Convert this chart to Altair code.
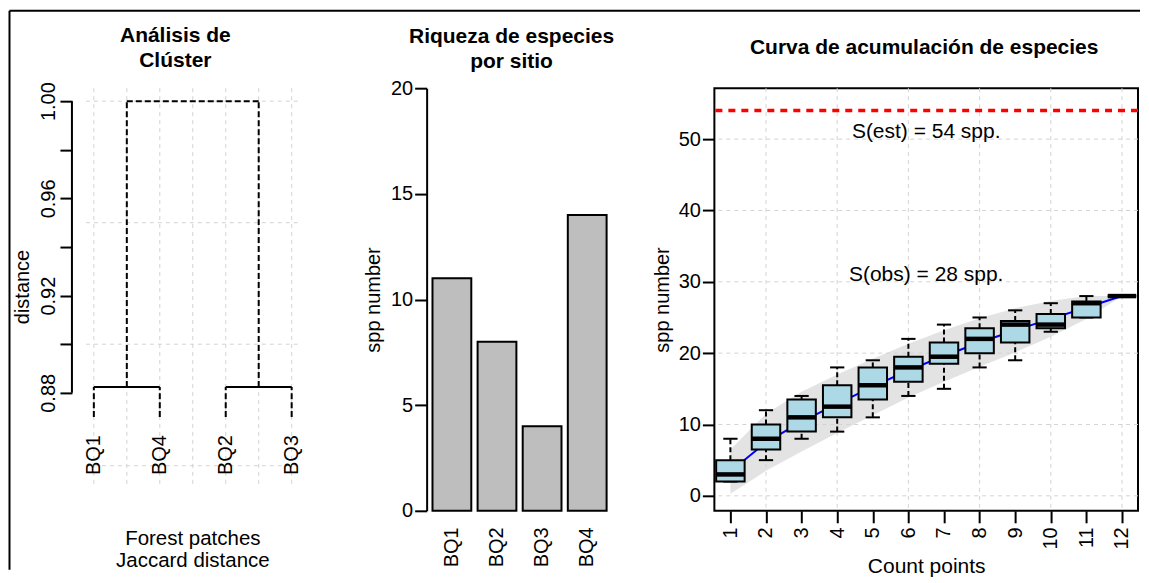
import altair as alt
import pandas as pd

FONT = "Liberation Sans"

# ---------------- Panel 1: dendrogram ----------------
leaf_labels = ["BQ1", "BQ4", "BQ2", "BQ3"]
leaf_pos = [1, 2, 3, 4]
merge_pairs = [(0, 1), (2, 3)]
merge_heights = [0.8824, 0.8824]
root_height = 1.00
leaf_end = 0.8700
dist_ticks = [0.88, 0.90, 0.92, 0.94, 0.96, 0.98, 1.00]
dist_grid = [0.85, 0.90, 0.95, 1.00]
pos_grid = [1, 1.5, 2, 2.5, 3, 3.5, 4]

# ---------------- Panel 2: bars ----------------
sites = ["BQ1", "BQ2", "BQ3", "BQ4"]
richness = [11, 8, 4, 14]
rich_ticks = [0, 5, 10, 15, 20]

# ---------------- Panel 3: accumulation ----------------
count_points = [1, 2, 3, 4, 5, 6, 7, 8, 9, 10, 11, 12]
acc_mean = [3.4, 7.5, 10.4, 12.9, 15.3, 17.6, 19.6, 21.5, 23.2, 24.8, 26.4, 28.0]
acc_upper = [6.5, 11.5, 14.6, 17.0, 19.2, 21.3, 23.2, 24.9, 26.3, 27.3, 28.0, 28.0]
acc_lower = [0.3, 3.5, 6.2, 8.8, 11.3, 13.8, 16.0, 18.1, 20.1, 22.3, 24.8, 28.0]
box_min = [2, 5, 8, 9, 11, 14, 15, 18, 19, 23, 25, 28]
box_q1 = [2, 6.5, 9, 11, 13.5, 16, 18.5, 20, 21.5, 23.5, 25, 28]
box_med = [3, 8, 11, 12.5, 15.5, 18, 19.5, 22, 24, 24, 27, 28]
box_q3 = [5, 10, 13.5, 15.5, 18, 19.5, 21.5, 23.5, 24.5, 25.5, 27.25, 28]
box_max = [8, 12, 14, 18, 19, 22, 24, 25, 26, 27, 28, 28]
s_est = 54
s_obs = 28
acc_yticks = [0, 10, 20, 30, 40, 50]
acc_grid_x = [2, 4, 6, 8, 10, 12]

GRID = "#d3d3d3"

# ===== Panel 1 =====
W1, H1 = 239, 397
x1_dom = [0.88, 0.88 + W1 / 66.0]
y1_dom = [0.84214, 1.00534]
x1s = alt.Scale(domain=x1_dom, nice=False, zero=False)
y1s = alt.Scale(domain=y1_dom, nice=False, zero=False)
ax1x = alt.Axis(labels=False, ticks=False, domain=False, grid=False,
                title=["Forest patches", "Jaccard distance"], titleFontSize=20.5,
                titleFontWeight="normal", titleX=106.5, titleY=60, titleBaseline="alphabetic",
                titleAlign="center", titleLineHeight=22)
ax1y = alt.Axis(values=dist_ticks,
                labelExpr="round(datum.value*100) % 4 == 0 ? format(datum.value, '.2f') : ''",
                domain=False, grid=False, offset=14, tickSize=12, tickWidth=2, tickColor="black",
                labelAngle=270, labelAlign="center", labelBaseline="alphabetic", labelPadding=5,
                labelFontSize=20, title="distance", titleFontSize=20, titleFontWeight="normal",
                titlePadding=6)

segs = []
centers = []
for (a, b), h in zip(merge_pairs, merge_heights):
    xa, xb = leaf_pos[a], leaf_pos[b]
    segs.append(dict(x=xa, x2=xa, y=leaf_end, y2=h, s="dash"))
    segs.append(dict(x=xb, x2=xb, y=leaf_end, y2=h, s="dash"))
    segs.append(dict(x=xa, x2=xb, y=h, y2=h, s="solid"))
    c = (xa + xb) / 2
    centers.append(c)
    segs.append(dict(x=c, x2=c, y=h, y2=root_height, s="dash"))
segs.append(dict(x=centers[0], x2=centers[1], y=root_height, y2=root_height, s="dash"))
seg_df = pd.DataFrame(segs)

dendro = alt.Chart(seg_df).mark_rule(color="black", strokeWidth=2).encode(
    x=alt.X("x:Q", scale=x1s, axis=ax1x), x2="x2:Q",
    y=alt.Y("y:Q", scale=y1s, axis=ax1y), y2="y2:Q",
    strokeDash=alt.StrokeDash("s:N", scale=alt.Scale(domain=["solid", "dash"], range=[[1, 0], [6, 3]]),
                              legend=None),
)

hgrid1 = alt.Chart(pd.DataFrame({"y": dist_grid, "lo": x1_dom[0], "hi": 4.12})).mark_rule(
    color=GRID, strokeDash=[4, 4], strokeWidth=1).encode(
    x=alt.X("lo:Q", scale=x1s, axis=ax1x), x2="hi:Q", y=alt.Y("y:Q", scale=y1s, axis=ax1y))
vgrid1 = alt.Chart(pd.DataFrame({"x": pos_grid})).mark_rule(
    color=GRID, strokeDash=[4, 4], strokeWidth=1).encode(x=alt.X("x:Q", scale=x1s, axis=ax1x))

leaf_df = pd.DataFrame({"x": leaf_pos, "lab": leaf_labels, "y": leaf_end})
leaves = alt.Chart(leaf_df).mark_text(angle=270, align="right", baseline="middle", dx=-18,
                                      fontSize=20, color="black").encode(
    x=alt.X("x:Q", scale=x1s, axis=ax1x), y=alt.Y("y:Q", scale=y1s, axis=ax1y), text="lab:N")

axis_line1 = alt.Chart(pd.DataFrame({"lo": [min(dist_ticks)], "hi": [max(dist_ticks)]})).mark_rule(
    color="black", strokeWidth=2).encode(x=alt.value(-14), y=alt.Y("lo:Q", scale=y1s, axis=ax1y), y2="hi:Q")

frame_top = alt.Chart(pd.DataFrame({"a": [0]})).mark_rule(color="black", strokeWidth=2).encode(
    x=alt.value(-76.5), x2=alt.value(1055), y=alt.value(-77.5))
frame_left = alt.Chart(pd.DataFrame({"a": [0]})).mark_rule(color="black", strokeWidth=2).encode(
    x=alt.value(-76.5), y=alt.value(-77.5), y2=alt.value(482))

p1 = alt.layer(hgrid1, vgrid1, dendro, leaves, axis_line1, frame_top, frame_left).properties(
    width=W1, height=H1,
    title=alt.TitleParams(["Análisis de", "Clúster"], offset=-61, dx=-30, lineHeight=25))

# ===== Panel 2 =====
W2, H2 = 186, 423
bar_df = pd.DataFrame({"site": sites, "n": richness})
p2 = alt.Chart(bar_df).mark_bar(color="#bebebe", stroke="black", strokeWidth=2).encode(
    x=alt.X("site:N", sort=sites, scale=alt.Scale(paddingInner=0.14, paddingOuter=0.13),
            axis=alt.Axis(labelAngle=270, labelAlign="right", labelBaseline="middle", ticks=False,
                          tickSize=0, domain=False, labelPadding=16, labelFontSize=20, title=None)),
    y=alt.Y("n:Q", scale=alt.Scale(domain=[0, 20], nice=False),
            axis=alt.Axis(values=rich_ticks, grid=False, domainColor="black", domainWidth=2,
                          tickSize=12, tickWidth=2, tickColor="black", labelPadding=2,
                          labelFontSize=20, title="spp number", titleFontSize=20,
                          titleFontWeight="normal", titlePadding=7)),
).properties(width=W2, height=H2,
             title=alt.TitleParams(["Riqueza de especies", "por sitio"], offset=6, dx=-8, lineHeight=25))

# ===== Panel 3 =====
W3, H3 = 424, 423
x3s = alt.Scale(domain=[0.55, 12.45], nice=False, zero=False)
y3s = alt.Scale(domain=[-2.1, 57.14], nice=False, zero=False)
ax3x = alt.Axis(values=count_points, labelAngle=270, labelAlign="right", labelBaseline="middle",
                tickSize=12, tickWidth=2, tickColor="black", domain=False, grid=False,
                labelPadding=4, labelFontSize=20, title="Count points", titleFontSize=21,
                titleFontWeight="normal", titlePadding=7)
ax3y = alt.Axis(values=acc_yticks, tickSize=12, tickWidth=2, tickColor="black", domain=False,
                grid=False, labelPadding=2, labelFontSize=20, title="spp number", titleFontSize=20,
                titleFontWeight="normal", titlePadding=6)

acc_df = pd.DataFrame({"cp": count_points, "mean": acc_mean, "up": acc_upper, "lo": acc_lower,
                       "mn": box_min, "q1": box_q1, "med": box_med, "q3": box_q3, "mx": box_max})

band = alt.Chart(acc_df).mark_area(color="#e3e3e3").encode(
    x=alt.X("cp:Q", scale=x3s, axis=ax3x),
    y=alt.Y("lo:Q", scale=y3s, axis=ax3y), y2="up:Q")

hgrid3 = alt.Chart(pd.DataFrame({"y": acc_yticks})).mark_rule(
    color=GRID, strokeDash=[4, 4], strokeWidth=1).encode(y=alt.Y("y:Q", scale=y3s, axis=ax3y))
vgrid3 = alt.Chart(pd.DataFrame({"x": acc_grid_x})).mark_rule(
    color=GRID, strokeDash=[4, 4], strokeWidth=1).encode(x=alt.X("x:Q", scale=x3s, axis=ax3x))

est_line = alt.Chart(pd.DataFrame({"y": [s_est]})).mark_rule(
    color="#ff0000", strokeDash=[7, 6], strokeWidth=3.5).encode(y=alt.Y("y:Q", scale=y3s, axis=ax3y))

mean_line = alt.Chart(acc_df).mark_line(color="#0000ff", strokeWidth=2).encode(
    x=alt.X("cp:Q", scale=x3s, axis=ax3x), y=alt.Y("mean:Q", scale=y3s, axis=ax3y))

base = alt.Chart(acc_df).transform_calculate(
    bl="datum.cp - 0.4", br="datum.cp + 0.4", sl="datum.cp - 0.2", sr="datum.cp + 0.2")

wh_up = base.mark_rule(color="black", strokeWidth=2, strokeDash=[5, 3]).encode(
    x=alt.X("cp:Q", scale=x3s, axis=ax3x), y=alt.Y("q3:Q", scale=y3s, axis=ax3y), y2="mx:Q")
wh_lo = base.mark_rule(color="black", strokeWidth=2, strokeDash=[5, 3]).encode(
    x=alt.X("cp:Q", scale=x3s, axis=ax3x), y=alt.Y("mn:Q", scale=y3s, axis=ax3y), y2="q1:Q")
cap_up = base.mark_rule(color="black", strokeWidth=2).encode(
    x=alt.X("sl:Q", scale=x3s, axis=ax3x), x2="sr:Q", y=alt.Y("mx:Q", scale=y3s, axis=ax3y))
cap_lo = base.mark_rule(color="black", strokeWidth=2).encode(
    x=alt.X("sl:Q", scale=x3s, axis=ax3x), x2="sr:Q", y=alt.Y("mn:Q", scale=y3s, axis=ax3y))
boxes = base.mark_rect(color="#add8e6", stroke="black", strokeWidth=2).encode(
    x=alt.X("bl:Q", scale=x3s, axis=ax3x), x2="br:Q",
    y=alt.Y("q1:Q", scale=y3s, axis=ax3y), y2="q3:Q")
meds = base.mark_rule(color="black", strokeWidth=4.5).encode(
    x=alt.X("bl:Q", scale=x3s, axis=ax3x), x2="br:Q", y=alt.Y("med:Q", scale=y3s, axis=ax3y))

ann_df = pd.DataFrame({
    "x": [(count_points[0] + count_points[-1]) / 2] * 2,
    "y": [s_est, s_obs],
    "t": [f"S(est) = {s_est} spp.", f"S(obs) = {s_obs} spp."]})
ann_est = alt.Chart(ann_df.iloc[[0]]).mark_text(fontSize=21, baseline="alphabetic", dy=27.5,
                                                color="black").encode(
    x=alt.X("x:Q", scale=x3s, axis=ax3x), y=alt.Y("y:Q", scale=y3s, axis=ax3y), text="t:N")
ann_obs = alt.Chart(ann_df.iloc[[1]]).mark_text(fontSize=21, baseline="alphabetic", dy=-15,
                                                color="black").encode(
    x=alt.X("x:Q", scale=x3s, axis=ax3x), y=alt.Y("y:Q", scale=y3s, axis=ax3y), text="t:N")

p3 = alt.layer(band, hgrid3, vgrid3, est_line, mean_line, wh_up, wh_lo, cap_up, cap_lo,
               boxes, meds, ann_est, ann_obs).properties(
    width=W3, height=H3,
    view=alt.ViewBackground(stroke="black", strokeWidth=2),
    title=alt.TitleParams("Curva de acumulación de especies", offset=30, dx=-2))

chart = alt.hconcat(p1, p2, p3, spacing=102, bounds="flush").properties(
    padding={"left": 0, "top": 1, "right": 0, "bottom": 0}
).configure(font=FONT, background="white").configure_view(strokeWidth=0).configure_axis(
    domainColor="black", tickColor="black", labelColor="black", titleColor="black",
    labelFont=FONT, titleFont=FONT
).configure_title(fontSize=21, fontWeight="bold", color="black", anchor="middle", font=FONT)

chart.save("out.html", embed_options={"renderer": "svg", "actions": False})
